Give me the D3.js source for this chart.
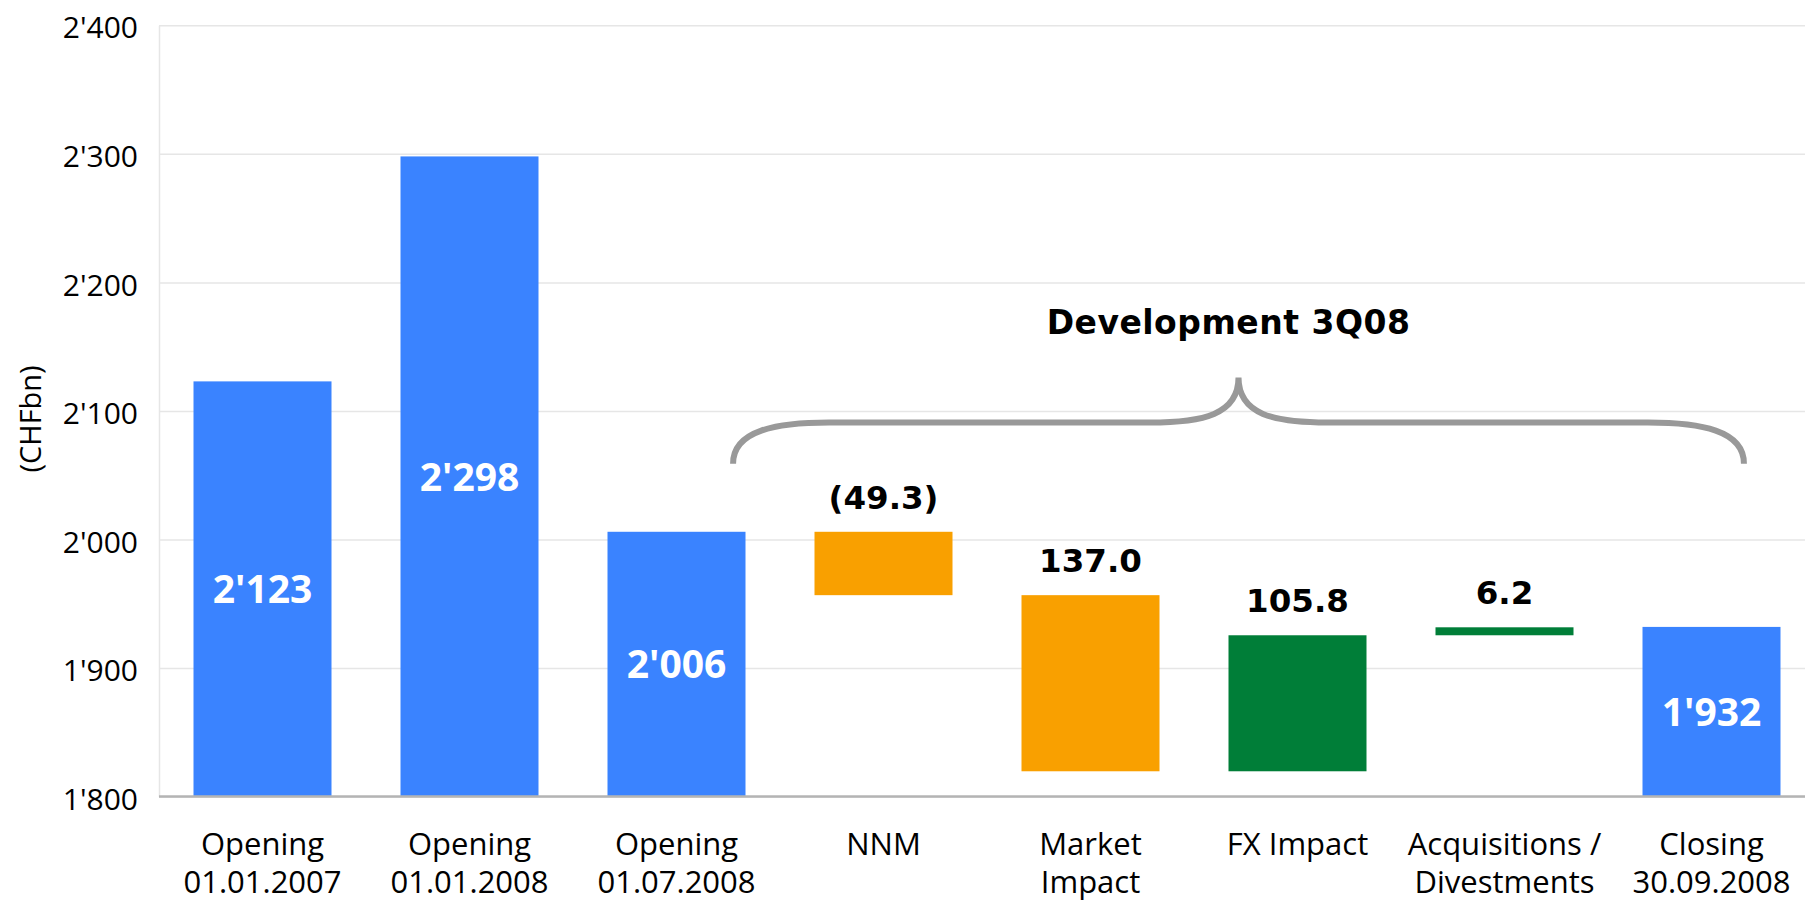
<!DOCTYPE html>
<html>
<head>
<meta charset="utf-8">
<script src="https://cdn.jsdelivr.net/npm/d3@7"></script>
<style>
  body { margin: 0; background: #fff; }
  svg { display: block; overflow: hidden; }
</style>
</head>
<body>
<div id="chart"></div>
<script>
// Chart data
var categories = ["Opening\n01.01.2007", "Opening\n01.01.2008", "Opening\n01.07.2008", "NNM",
                  "Market\nImpact", "FX Impact", "Acquisitions /\nDivestments", "Closing\n30.09.2008"];
var kinds = ["total", "total", "total", "delta", "delta", "delta", "delta", "total"];
var values = [2123, 2298, 2006, -49.3, -137.0, 105.8, 6.2, 1932];
var delta_labels = [null, null, null, "(49.3)", "137.0", "105.8", "6.2", null];
var y_ticks = [1800, 1900, 2000, 2100, 2200, 2300, 2400];
var y_title = "(CHFbn)";
var bracket_title = "Development 3Q08";

var create_chart = function() {
  // Change these to fine-tune graph
  var width = 1805;
  var height = 901;
  var plot_left = 159;
  var plot_right = 1815;
  var plot_top = 25.3;
  var plot_bottom = 796.6;
  var blue = "#3a83ff";
  var orange = "#f9a000";
  var green = "#007e38";
  //////////////////////////////////

  var locale = d3.formatLocale({ decimal: ".", thousands: "'", grouping: [3], currency: ["", ""] });
  var fmt = locale.format(",.0f");

  // build waterfall segments
  var running = 0;
  var bars = categories.map(function(c, i) {
    var start, stop;
    if (kinds[i] == "total") {
      start = y_ticks[0];
      stop = values[i];
      running = values[i];
    } else {
      start = running;
      stop = running + values[i];
      running = stop;
    }
    return { cat: c, kind: kinds[i], value: values[i], start: start, stop: stop, label: delta_labels[i] };
  });

  var x = d3.scaleBand()
      .domain(categories)
      .range([plot_left, plot_right])
      .paddingInner(1 / 3)
      .paddingOuter(1 / 6);

  var y = d3.scaleLinear()
      .domain([y_ticks[0], y_ticks[y_ticks.length - 1]])
      .range([plot_bottom, plot_top]);

  var svg = d3.select("#chart").append("svg")
      .attr("width", width)
      .attr("height", height);

  // grid + y axis
  var y_axis = svg.append("g")
      .attr("transform", "translate(" + plot_left + ",0)")
      .call(d3.axisLeft(y)
        .tickValues(y_ticks)
        .tickFormat(fmt)
        .tickSize(-(plot_right - plot_left))
        .tickSizeOuter(0)
        .tickPadding(21));

  y_axis.select(".domain").attr("stroke", "#e6e6e6").attr("stroke-width", 1.5);
  y_axis.selectAll(".tick line").attr("stroke", "#e6e6e6").attr("stroke-width", 1.5);
  y_axis.selectAll(".tick text")
      .attr("fill", "#000")
      .style("font-family", "'Open Sans', sans-serif")
      .style("font-size", "30px")
      .attr("dy", "0.42em");

  svg.append("text")
      .attr("transform", "translate(31," + ((plot_top + plot_bottom) / 2 + 8) + ") rotate(-90)")
      .attr("text-anchor", "middle")
      .attr("dy", "0.35em")
      .style("font-family", "'Open Sans', sans-serif")
      .style("font-size", "29px")
      .text(y_title);

  // bars
  var bar_color = function(d) {
    if (d.kind == "total") return blue;
    return d.value < 0 ? orange : green;
  };

  svg.selectAll("rect.bar")
      .data(bars)
    .enter().append("rect")
      .attr("class", "bar")
      .attr("x", function(d) { return x(d.cat); })
      .attr("width", x.bandwidth())
      .attr("y", function(d) { return y(Math.max(d.start, d.stop)); })
      .attr("height", function(d) { return Math.abs(y(d.start) - y(d.stop)); })
      .attr("fill", bar_color);

  // bottom axis line
  svg.append("line")
      .attr("x1", plot_left)
      .attr("x2", plot_right)
      .attr("y1", y(y_ticks[0]))
      .attr("y2", y(y_ticks[0]))
      .attr("stroke", "#b4b4b4")
      .attr("stroke-width", 2.5);

  // value labels inside totals
  svg.selectAll("text.total")
      .data(bars.filter(function(d) { return d.kind == "total"; }))
    .enter().append("text")
      .attr("class", "total")
      .attr("x", function(d) { return x(d.cat) + x.bandwidth() / 2; })
      .attr("y", function(d) { return (y(d.start) + y(d.stop)) / 2; })
      .attr("dy", "0.36em")
      .attr("text-anchor", "middle")
      .attr("fill", "#fff")
      .style("font-family", "'Open Sans', sans-serif")
      .style("font-weight", "bold")
      .style("font-size", "39px")
      .text(function(d) { return fmt(d.value); });

  // delta labels above bars
  svg.selectAll("text.delta")
      .data(bars.filter(function(d) { return d.kind == "delta"; }))
    .enter().append("text")
      .attr("class", "delta")
      .attr("x", function(d) { return x(d.cat) + x.bandwidth() / 2; })
      .attr("y", function(d) { return y(Math.max(d.start, d.stop)) - 23; })
      .attr("text-anchor", "middle")
      .attr("fill", "#000")
      .style("font-family", "'DejaVu Sans', sans-serif")
      .style("font-weight", "bold")
      .style("font-size", "32.5px")
      .text(function(d) { return d.label; });

  // category labels
  var x_axis = svg.append("g")
      .attr("transform", "translate(0," + y(y_ticks[0]) + ")")
      .call(d3.axisBottom(x).tickSize(0).tickPadding(0));
  x_axis.select(".domain").remove();
  x_axis.selectAll(".tick text").each(function(d) {
    var t = d3.select(this).text("").attr("y", 0).attr("dy", null)
        .attr("fill", "#000")
        .style("font-family", "'Open Sans', sans-serif")
        .style("font-size", "31px");
    d.split("\n").forEach(function(line, i) {
      t.append("tspan").attr("x", 0).attr("y", 58 + i * 38).text(line);
    });
  });

  // curly bracket over the 3Q08 development
  var bx1 = x(categories[2]) + x.bandwidth() * 0.91;
  var bx2 = x(categories[7]) + x.bandwidth() * 0.735;
  var bmid = (bx1 + bx2) / 2;
  var y_end = y(2059), y_arm = y(2091), y_tip = y(2126);
  var corner = 96, inner = 89;
  var brace = d3.path();
  brace.moveTo(bx1, y_end);
  brace.bezierCurveTo(bx1, y_arm + 8, bx1 + corner * 0.45, y_arm, bx1 + corner, y_arm);
  brace.lineTo(bmid - inner, y_arm);
  brace.bezierCurveTo(bmid - inner * 0.4, y_arm, bmid, y_arm - 8, bmid, y_tip);
  brace.bezierCurveTo(bmid, y_arm - 8, bmid + inner * 0.4, y_arm, bmid + inner, y_arm);
  brace.lineTo(bx2 - corner, y_arm);
  brace.bezierCurveTo(bx2 - corner * 0.45, y_arm, bx2, y_arm + 8, bx2, y_end);

  svg.append("path")
      .attr("d", brace.toString())
      .attr("fill", "none")
      .attr("stroke", "#999")
      .attr("stroke-width", 6);

  svg.append("text")
      .attr("x", bmid - 10)
      .attr("y", y(2160))
      .attr("text-anchor", "middle")
      .attr("fill", "#000")
      .style("font-family", "'DejaVu Sans', sans-serif")
      .style("font-weight", "bold")
      .style("font-size", "33px")
      .style("letter-spacing", "0.5px")
      .text(bracket_title);
};

create_chart();
</script>
</body>
</html>
